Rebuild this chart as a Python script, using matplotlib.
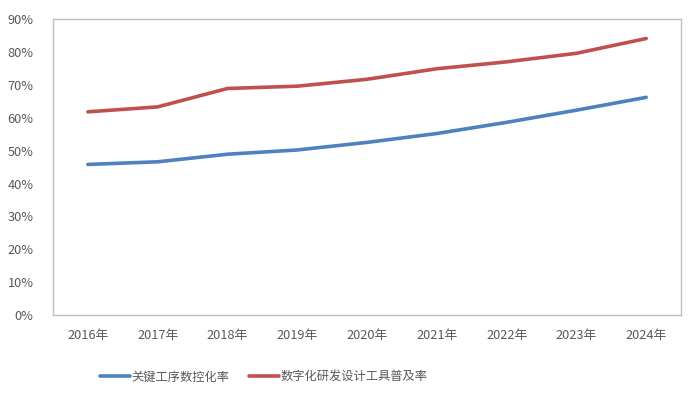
import matplotlib
matplotlib.use("Agg")
import numpy as np
from matplotlib import pyplot as plt
from matplotlib.ticker import PercentFormatter

plt.rcParams['font.family'] = ['Noto Sans CJK SC', 'DejaVu Sans']

years = ['2016年', '2017年', '2018年', '2019年', '2020年', '2021年', '2022年', '2023年', '2024年']
nc_rate = [45.8, 46.6, 48.9, 50.2, 52.5, 55.2, 58.6, 62.3, 66.2]
digital_rd = [61.8, 63.3, 68.9, 69.6, 71.7, 74.9, 77.0, 79.6, 84.1]
names = ['关键工序数控化率', '数字化研发设计工具普及率']


def main():
    fig = plt.figure(figsize=(7, 3.98), dpi=100)
    ax = fig.add_axes([0.0757, 0.2085, 0.8973, 0.7435])

    x = np.arange(len(years))
    ax.plot(x, nc_rate, c='#4F81BD', lw=2.6, solid_capstyle='round', label=names[0])
    ax.plot(x, digital_rd, c='#C0504D', lw=2.6, solid_capstyle='round', label=names[1])

    ax.set_xlim(-0.5, len(years) - 0.5)
    ax.set_ylim(0, 90)
    ax.set_yticks(np.arange(0, 91, 10))
    ax.yaxis.set_major_formatter(PercentFormatter(decimals=0))
    ax.set_xticks(x)
    ax.set_xticklabels(years)
    ax.tick_params(length=0, labelsize=9.2, colors='#595959')
    ax.tick_params(axis='y', pad=14)
    ax.tick_params(axis='x', pad=10)
    for s in ax.spines.values():
        s.set_color('#BFBFBF')
        s.set_linewidth(1)

    fig.legend(loc='center', bbox_to_anchor=(0.377, 0.053), ncol=2, frameon=False,
               handlelength=2.4, handletextpad=0.15, columnspacing=1.6,
               prop={'size': 8.8}, labelcolor='#595959')

    fig.savefig('out.png', dpi=100)


if __name__ == '__main__':
    main()
